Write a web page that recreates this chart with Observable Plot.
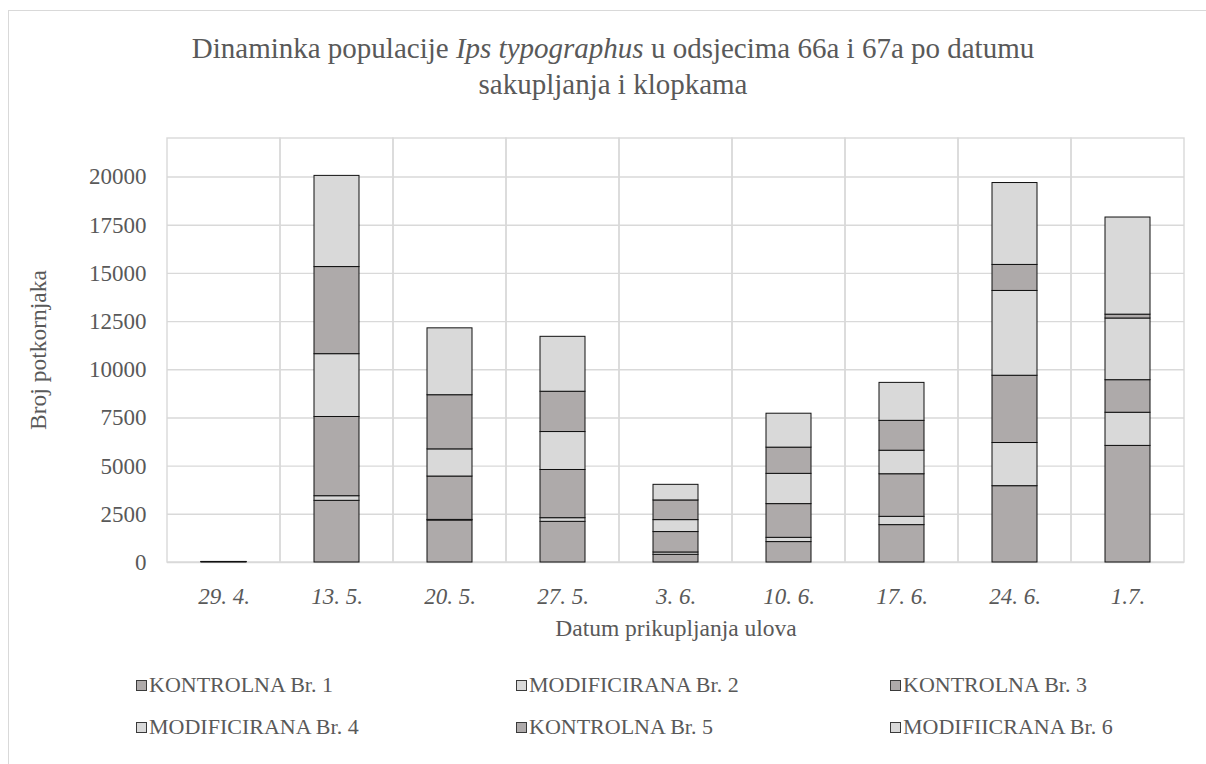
<!DOCTYPE html>
<html>
<head>
<meta charset="utf-8">
<script src="https://cdn.jsdelivr.net/npm/d3@7"></script>
<script src="https://cdn.jsdelivr.net/npm/@observablehq/plot@0.6"></script>
<style>
  html, body { margin: 0; padding: 0; background: #fff; }
  #wrap { position: relative; width: 1206px; height: 764px; overflow: hidden; background: #fff;
          font-family: "Liberation Serif", "Times New Roman", serif; color: #595959; }
  #frame { position: absolute; left: 8px; top: 10px; width: 1400px; height: 1000px;
           border: 1.5px solid #d9d9d9; box-sizing: border-box; }
  #title { position: absolute; left: 0; width: 1226px; top: 30px; text-align: center;
           font-size: 29px; line-height: 36px; }
  #chart { position: absolute; left: 0; top: 110px; }
  #ytitle { position: absolute; left: 38px; top: 350px; transform: translate(-50%, -50%) rotate(-90deg);
            font-size: 23.5px; white-space: nowrap; }
  #xtitle { position: absolute; left: 676px; top: 628px; transform: translate(-50%, -50%);
            font-size: 23.5px; white-space: nowrap; }
  .leg { position: absolute; font-size: 22px; white-space: nowrap; display: flex; align-items: center; }
  .sw { width: 9px; height: 9px; border: 1px solid #3a3a3a; margin-right: 2px; }
</style>
</head>
<body>
<div id="wrap">
  <div id="frame"></div>
  <div id="title">Dinaminka populacije <i>Ips typographus</i> u odsjecima 66a i 67a po datumu<br>sakupljanja i klopkama</div>
  <div id="chart"></div>
  <div id="ytitle">Broj potkornjaka</div>
  <div id="xtitle">Datum prikupljanja ulova</div>
  <div id="legend"></div>
</div>
<script>
// ---- data ----
const dates = ["29. 4.", "13. 5.", "20. 5.", "27. 5.", "3. 6.", "10. 6.", "17. 6.", "24. 6.", "1.7."];
const seriesNames = ["KONTROLNA Br. 1", "MODIFICIRANA Br. 2", "KONTROLNA Br. 3",
                     "MODIFICIRANA Br. 4", "KONTROLNA Br. 5", "MODIFIICRANA Br. 6"];
const kontrolna1    = [20, 3200, 2180, 2110, 400, 1060, 1940, 3960, 6050];
const modificirana2 = [5, 240, 30, 190, 120, 220, 430, 2240, 1720];
const kontrolna3    = [5, 4110, 2250, 2500, 1060, 1750, 2210, 3490, 1690];
const modificirana4 = [0, 3260, 1410, 1970, 620, 1570, 1220, 4400, 3200];
const kontrolna5    = [0, 4520, 2810, 2090, 1020, 1360, 1550, 1350, 200];
const modificirana6 = [0, 4730, 3470, 2850, 810, 1760, 1970, 4250, 5040];
const yTicks = [0, 2500, 5000, 7500, 10000, 12500, 15000, 17500, 20000];
const yMax = 22000;

// ---- styles ----
const DARK = "#aeaaaa", LIGHT = "#d9d9d9", GRID = "#d9d9d9", TEXT = "#595959";
const FONT = '"Liberation Serif", "Times New Roman", serif';
const seriesColors = [DARK, LIGHT, DARK, LIGHT, DARK, LIGHT];

const seriesValues = [kontrolna1, modificirana2, kontrolna3, modificirana4, kontrolna5, modificirana6];
const rows = [];
dates.forEach((d, i) => {
  seriesNames.forEach((s, j) => rows.push({date: d, series: s, value: seriesValues[j][i]}));
});

const chart = Plot.plot({
  width: 1206,
  height: 530,
  marginLeft: 167,
  marginRight: 22,
  marginTop: 28,
  marginBottom: 78,
  style: {fontFamily: FONT, fontSize: "23px", color: TEXT, background: "transparent"},
  x: {domain: dates, padding: 0, label: null},
  y: {domain: [0, yMax], label: null},
  color: {domain: seriesNames, range: seriesColors},
  marks: [
    Plot.gridY(yTicks, {stroke: GRID, strokeOpacity: 1, strokeWidth: 1.4}),
    Plot.cell(dates, {x: d => d, fill: "none", stroke: GRID, strokeWidth: 1.4}),
    Plot.barY(rows, Plot.stackY({x: "date", y: "value", fill: "series",
      stroke: "#111", strokeWidth: 1, insetLeft: 34, insetRight: 34})),
    Plot.axisY(yTicks, {tickSize: 0, tickPadding: 21, fill: TEXT, fontSize: 23, fontFamily: FONT,
      tickFormat: d => String(d), label: null}),
    Plot.axisX({tickSize: 0, tickPadding: 25, fill: TEXT, fontSize: 23, fontFamily: FONT,
      fontStyle: "italic", label: null})
  ]
});
document.getElementById("chart").appendChild(chart);

// ---- legend ----
const legPos = [[136, 685], [516, 685], [890, 685], [136, 727], [516, 727], [890, 727]];
const legend = document.getElementById("legend");
seriesNames.forEach((s, j) => {
  const el = document.createElement("div");
  el.className = "leg";
  el.style.left = legPos[j][0] + "px";
  el.style.top = (legPos[j][1] - 13) + "px";
  el.innerHTML = `<span class="sw" style="background:${seriesColors[j]}"></span><span>${s}</span>`;
  legend.appendChild(el);
});
</script>
</body>
</html>
